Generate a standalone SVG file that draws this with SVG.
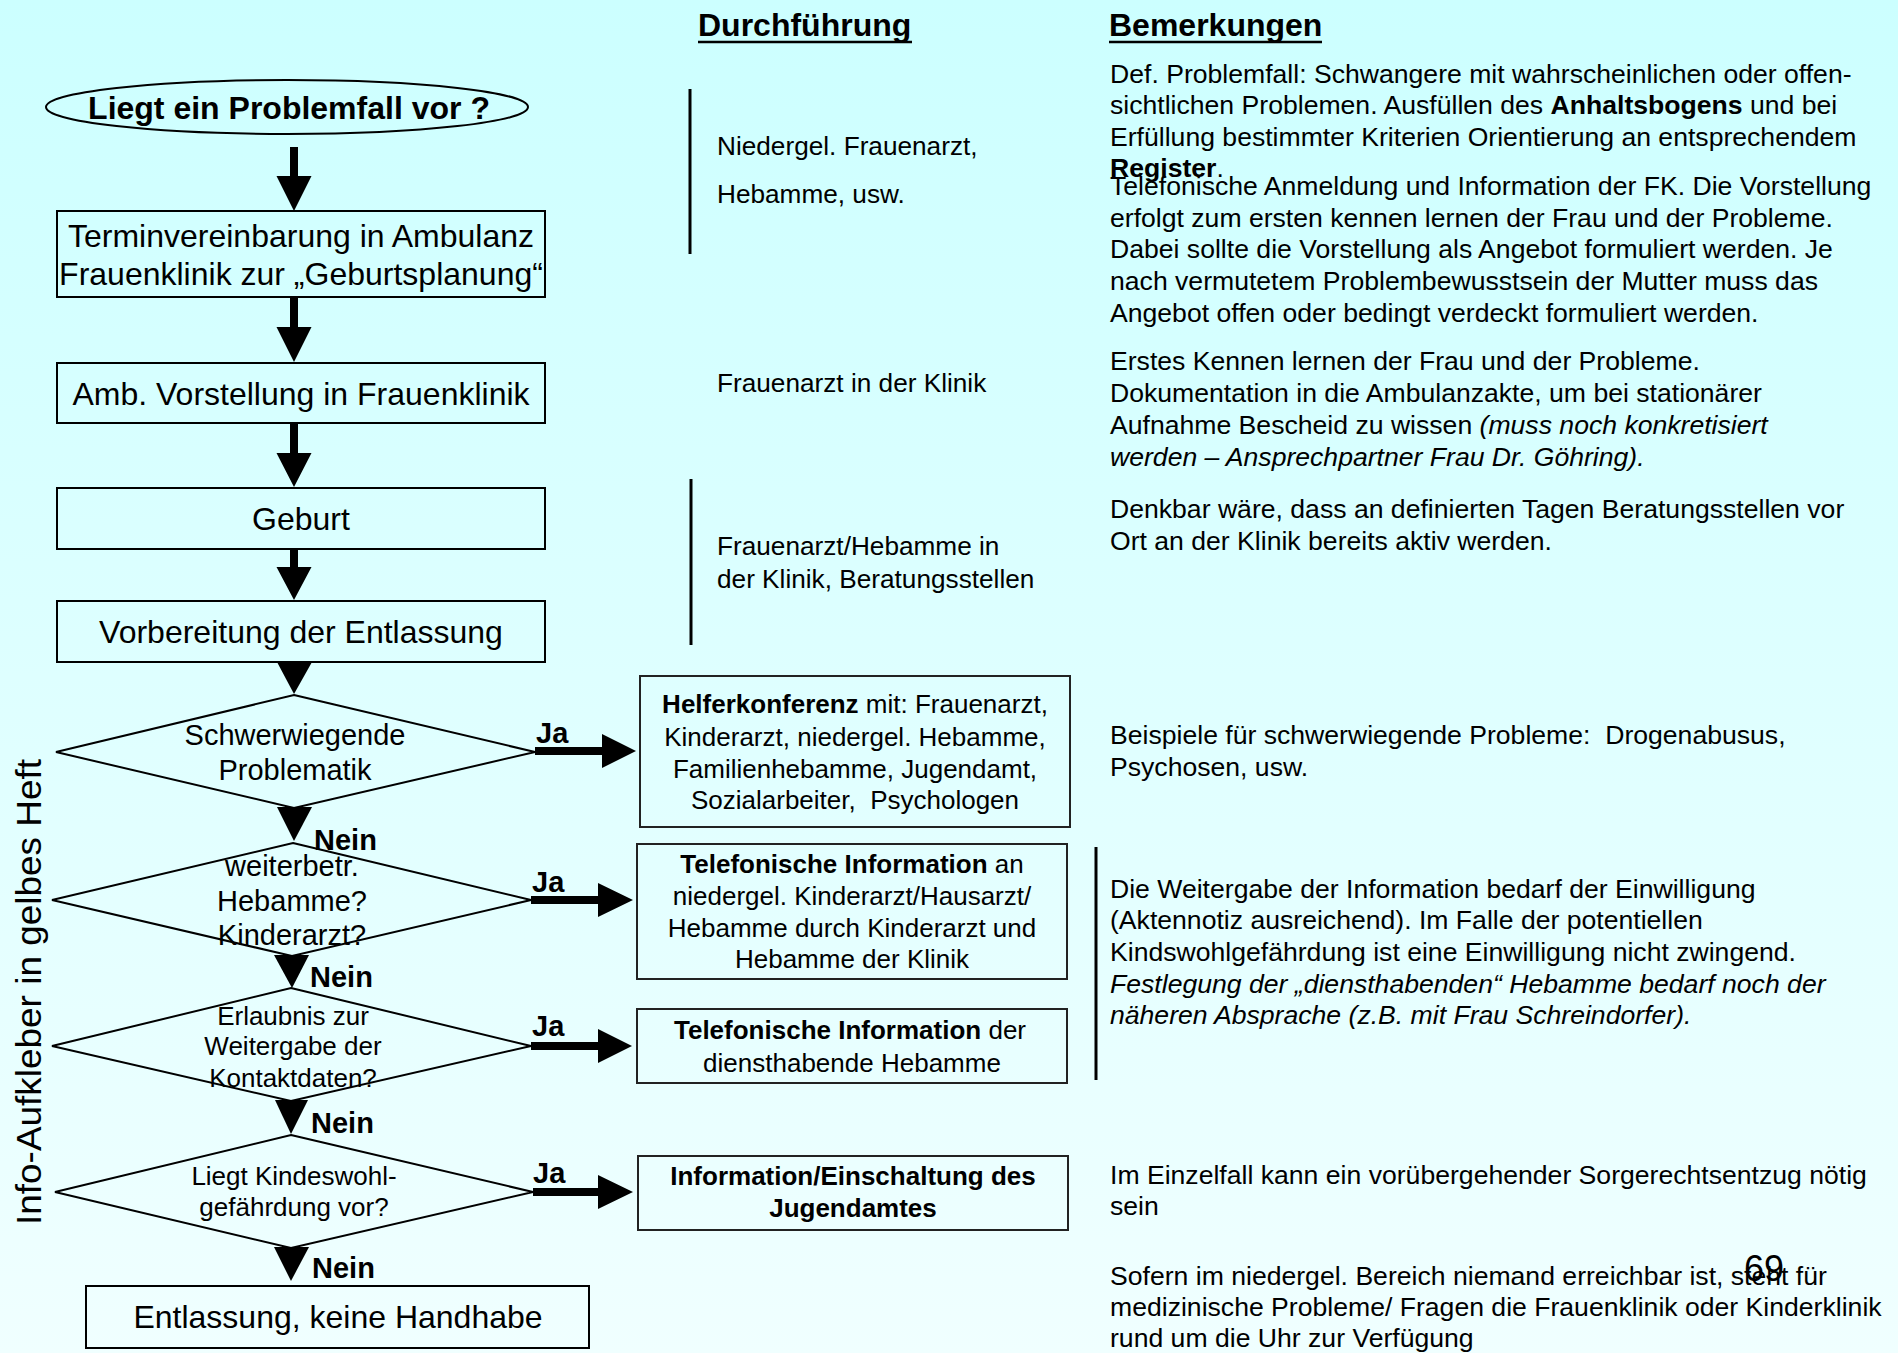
<svg xmlns="http://www.w3.org/2000/svg" width="1898" height="1353" viewBox="0 0 1898 1353">
  <defs>
    <linearGradient id="bg" x1="0" y1="0" x2="0" y2="1">
      <stop offset="0" stop-color="#ccffff"/>
      <stop offset="1" stop-color="#f0ffff"/>
    </linearGradient>
    <style>
      text { font-family: "Liberation Sans", Arial, sans-serif; fill: #000; }
      .shape { fill: none; stroke: #000; stroke-width: 2; }
      .rbox { fill: none; stroke: #222; stroke-width: 2; }
      .arrow { fill: #000; stroke: none; }
      .sep { stroke: #000; stroke-width: 3; }
      .fc { font-size: 32px; text-anchor: middle; }
      .dm { font-size: 29px; text-anchor: middle; }
      .ds { font-size: 26px; text-anchor: middle; }
      .lbl { font-size: 29px; font-weight: bold; }
      .hdr { font-size: 32px; font-weight: bold; }
      .col { font-size: 26.2px; }
      .bx { font-size: 26px; text-anchor: middle; }
      .rem { font-size: 26.6px; white-space: pre; }
      .b { font-weight: bold; }
      .i { font-style: italic; }
    </style>
  </defs>
  <rect x="0" y="0" width="1898" height="1353" fill="url(#bg)"/>

  <!-- headers -->
  <g id="headers">
    <text class="hdr" x="698" y="36">Durchführung</text>
    <line x1="698" y1="42" x2="912" y2="42" stroke="#000" stroke-width="2.5"/>
    <text class="hdr" x="1109" y="36">Bemerkungen</text>
    <line x1="1109" y1="42" x2="1322" y2="42" stroke="#000" stroke-width="2.5"/>
  </g>

  <!-- side label -->
  <text id="side-label" transform="translate(41,992) rotate(-90)" font-size="35" text-anchor="middle" textLength="466" lengthAdjust="spacingAndGlyphs">Info-Aufkleber in gelbes Heft</text>

  <!-- flowchart nodes -->
  <g id="start">
    <ellipse class="shape" cx="287" cy="107" rx="241" ry="27"/>
    <text x="289" y="119" font-size="32" font-weight="bold" text-anchor="middle">Liegt ein Problemfall vor ?</text>
  </g>
  <g id="termin">
    <rect class="shape" x="57" y="211" width="488" height="86"/>
    <text class="fc" x="301" y="247">Terminvereinbarung in Ambulanz</text>
    <text class="fc" x="301" y="285">Frauenklinik zur „Geburtsplanung“</text>
  </g>
  <g id="vorstellung">
    <rect class="shape" x="57" y="363" width="488" height="60"/>
    <text class="fc" x="301" y="405">Amb. Vorstellung in Frauenklinik</text>
  </g>
  <g id="geburt">
    <rect class="shape" x="57" y="488" width="488" height="61"/>
    <text class="fc" x="301" y="530">Geburt</text>
  </g>
  <g id="vorbereitung">
    <rect class="shape" x="57" y="601" width="488" height="61"/>
    <text class="fc" x="301" y="643">Vorbereitung der Entlassung</text>
  </g>
  <g id="d-schwer">
    <polygon class="shape" points="294,695 535,752 294,808 56,752"/>
    <text class="dm" x="295" y="745">Schwerwiegende</text>
    <text class="dm" x="295" y="780">Problematik</text>
  </g>
  <g id="d-weiter">
    <polygon class="shape" points="293,843 531,900 292,956 52,900"/>
    <text class="dm" x="292" y="876">weiterbetr.</text>
    <text class="dm" x="292" y="911">Hebamme?</text>
    <text class="dm" x="292" y="945">Kinderarzt?</text>
  </g>
  <g id="d-erlaubnis">
    <polygon class="shape" points="291,988 531,1046 291,1101 52,1046"/>
    <text class="ds" x="293" y="1025">Erlaubnis zur</text>
    <text class="ds" x="293" y="1055">Weitergabe der</text>
    <text class="ds" x="293" y="1087">Kontaktdaten?</text>
  </g>
  <g id="d-kindeswohl">
    <polygon class="shape" points="291,1135 533,1192 291,1248 55,1192"/>
    <text class="ds" x="294" y="1185">Liegt Kindeswohl-</text>
    <text class="ds" x="294" y="1216">gefährdung vor?</text>
  </g>
  <g id="entlassung">
    <rect class="shape" x="86" y="1286" width="503" height="62"/>
    <text class="fc" x="338" y="1328">Entlassung, keine Handhabe</text>
  </g>

  <!-- action boxes -->
  <g id="helferkonferenz">
    <rect class="rbox" x="640" y="676" width="430" height="151"/>
    <text class="bx" x="855" y="713"><tspan class="b">Helferkonferenz</tspan> mit: Frauenarzt,</text>
    <text class="bx" x="855" y="746">Kinderarzt, niedergel. Hebamme,</text>
    <text class="bx" x="855" y="778">Familienhebamme, Jugendamt,</text>
    <text class="bx" x="855" y="809" style="white-space:pre">Sozialarbeiter,  Psychologen</text>
  </g>
  <g id="tel-info-1">
    <rect class="rbox" x="637" y="844" width="430" height="135"/>
    <text class="bx" x="852" y="873"><tspan class="b">Telefonische Information</tspan> an</text>
    <text class="bx" x="852" y="905">niedergel. Kinderarzt/Hausarzt/</text>
    <text class="bx" x="852" y="937">Hebamme durch Kinderarzt und</text>
    <text class="bx" x="852" y="968">Hebamme der Klinik</text>
  </g>
  <g id="tel-info-2">
    <rect class="rbox" x="637" y="1009" width="430" height="74"/>
    <text class="bx" x="850" y="1039"><tspan class="b">Telefonische Information</tspan> der</text>
    <text class="bx" x="852" y="1072">diensthabende Hebamme</text>
  </g>
  <g id="jugendamt">
    <rect class="rbox" x="638" y="1156" width="430" height="74"/>
    <text class="bx b" x="853" y="1185">Information/Einschaltung des</text>
    <text class="bx b" x="853" y="1217">Jugendamtes</text>
  </g>

  <!-- Durchführung column -->
  <g id="durchfuehrung">
    <line class="sep" x1="690" y1="89" x2="690" y2="254"/>
    <text class="col" x="717" y="155">Niedergel. Frauenarzt,</text>
    <text class="col" x="717" y="203">Hebamme, usw.</text>
    <text class="col" x="717" y="392">Frauenarzt in der Klinik</text>
    <line class="sep" x1="691" y1="479" x2="691" y2="645"/>
    <text class="col" x="717" y="555">Frauenarzt/Hebamme in</text>
    <text class="col" x="717" y="588">der Klinik, Beratungsstellen</text>
  </g>

  <!-- Bemerkungen column -->
  <g id="bemerkungen">
    <text class="rem" x="1110" y="83">Def. Problemfall: Schwangere mit wahrscheinlichen oder offen-</text>
    <text class="rem" x="1110" y="114">sichtlichen Problemen. Ausfüllen des <tspan class="b">Anhaltsbogens</tspan> und bei</text>
    <text class="rem" x="1110" y="146">Erfüllung bestimmter Kriterien Orientierung an entsprechendem</text>
    <text class="rem" x="1110" y="177"><tspan class="b">Register</tspan>.</text>
    <text class="rem" x="1110" y="195">Telefonische Anmeldung und Information der FK. Die Vorstellung</text>
    <text class="rem" x="1110" y="227">erfolgt zum ersten kennen lernen der Frau und der Probleme.</text>
    <text class="rem" x="1110" y="258">Dabei sollte die Vorstellung als Angebot formuliert werden. Je</text>
    <text class="rem" x="1110" y="290">nach vermutetem Problembewusstsein der Mutter muss das</text>
    <text class="rem" x="1110" y="322">Angebot offen oder bedingt verdeckt formuliert werden.</text>
    <text class="rem" x="1110" y="370">Erstes Kennen lernen der Frau und der Probleme.</text>
    <text class="rem" x="1110" y="402">Dokumentation in die Ambulanzakte, um bei stationärer</text>
    <text class="rem" x="1110" y="434">Aufnahme Bescheid zu wissen <tspan class="i">(muss noch konkretisiert</tspan></text>
    <text class="rem i" x="1110" y="466">werden – Ansprechpartner Frau Dr. Göhring).</text>
    <text class="rem" x="1110" y="518">Denkbar wäre, dass an definierten Tagen Beratungsstellen vor</text>
    <text class="rem" x="1110" y="550">Ort an der Klinik bereits aktiv werden.</text>
    <text class="rem" x="1110" y="744">Beispiele für schwerwiegende Probleme:  Drogenabusus,</text>
    <text class="rem" x="1110" y="776">Psychosen, usw.</text>
    <line class="sep" x1="1096" y1="847" x2="1096" y2="1080"/>
    <text class="rem" x="1110" y="898">Die Weitergabe der Information bedarf der Einwilligung</text>
    <text class="rem" x="1110" y="929">(Aktennotiz ausreichend). Im Falle der potentiellen</text>
    <text class="rem" x="1110" y="961">Kindswohlgefährdung ist eine Einwilligung nicht zwingend.</text>
    <text class="rem i" x="1110" y="993">Festlegung der „diensthabenden“ Hebamme bedarf noch der</text>
    <text class="rem i" x="1110" y="1024">näheren Absprache (z.B. mit Frau Schreindorfer).</text>
    <text class="rem" x="1110" y="1184">Im Einzelfall kann ein vorübergehender Sorgerechtsentzug nötig</text>
    <text class="rem" x="1110" y="1215">sein</text>
    <text class="rem" x="1110" y="1285">Sofern im niedergel. Bereich niemand erreichbar ist, steht für</text>
    <text class="rem" x="1110" y="1316">medizinische Probleme/ Fragen die Frauenklinik oder Kinderklinik</text>
    <text class="rem" x="1110" y="1347">rund um die Uhr zur Verfügung</text>
  </g>
  <text id="page-number" x="1744" y="1281" font-size="36">69</text>

  <!-- connectors -->
  <g id="connectors">
    <polygon class="arrow" points="290,147 298,147 298,176 311.5,176 294,211 276.5,176 290,176"/>
    <polygon class="arrow" points="290,297 298,297 298,327 311.5,327 294,362 276.5,327 290,327"/>
    <polygon class="arrow" points="290,424 298,424 298,453 311.5,453 294,487 276.5,453 290,453"/>
    <polygon class="arrow" points="290,550 298,550 298,567 311.5,567 294,600 276.5,567 290,567"/>
    <polygon class="arrow" points="277,662 312,662 294,694"/>
    <polygon class="arrow" points="277,807 312,807 294,841"/>
    <polygon class="arrow" points="274,955 309,955 292,988"/>
    <polygon class="arrow" points="275,1100 308,1100 291,1134"/>
    <polygon class="arrow" points="274,1247 309,1247 291,1281"/>
    <polygon class="arrow" points="535,747 602,747 602,734 636,751 602,768 602,755 535,755"/>
    <polygon class="arrow" points="531,896 598,896 598,883 633,900 598,917 598,904 531,904"/>
    <polygon class="arrow" points="531,1042 598,1042 598,1029 632,1046 598,1063 598,1050 531,1050"/>
    <polygon class="arrow" points="533,1188 598,1188 598,1175 633,1192 598,1209 598,1196 533,1196"/>
    <text class="lbl" x="536" y="743">Ja</text>
    <text class="lbl" x="532" y="892">Ja</text>
    <text class="lbl" x="532" y="1036">Ja</text>
    <text class="lbl" x="533" y="1183">Ja</text>
    <text class="lbl" x="314" y="850" font-size="30">Nein</text>
    <text class="lbl" x="310" y="987" font-size="30">Nein</text>
    <text class="lbl" x="311" y="1133" font-size="30">Nein</text>
    <text class="lbl" x="312" y="1278" font-size="30">Nein</text>
  </g>
</svg>
